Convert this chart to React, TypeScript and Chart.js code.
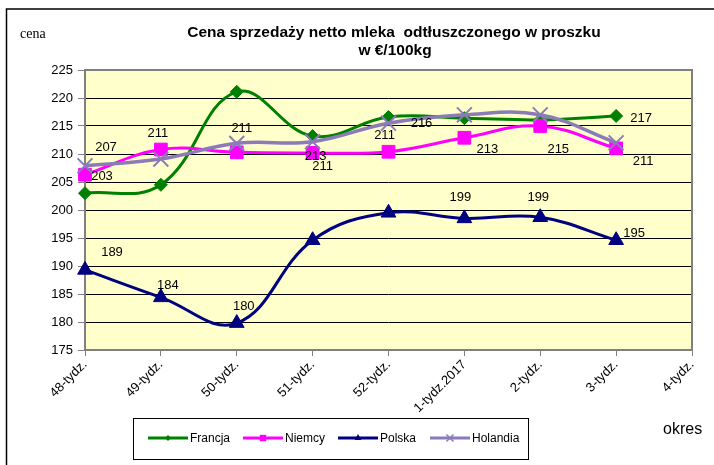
import React, { useEffect, useRef } from 'react';
import { Chart, registerables } from 'chart.js';

Chart.register(...registerables);

// ---------- DATA ----------
const categories = ['48-tydz.', '49-tydz.', '50-tydz.', '51-tydz.', '52-tydz.', '1-tydz.2017', '2-tydz.', '3-tydz.', '4-tydz.'];
const yTicks = [175, 180, 185, 190, 195, 200, 205, 210, 215, 220, 225];

const francja = [203.0, 204.5, 221.1, 213.2, 216.6, 216.4, 216.1, 216.8, null];
const niemcy = [206.3, 210.8, 210.3, 210.2, 210.4, 212.9, 215.0, 211.0, null];
const polska = [189.3, 184.4, 179.8, 194.6, 199.5, 198.5, 198.7, 194.6, null];
const holandia = [207.9, 209.1, 211.9, 212.2, 215.5, 217.0, 217.0, 212.0, null];

const francjaLabels = ['203', null, null, '213', '216', null, null, '217', null];
const niemcyLabels = [null, '211', null, '211', null, '213', '215', '211', null];
const polskaLabels = ['189', '184', '180', null, null, '199', '199', '195', null];
const holandiaLabels = ['207', null, '211', null, '211', null, null, null, null];

const seriesNames = ['Francja', 'Niemcy', 'Polska', 'Holandia'];
const titleLines = ['Cena sprzedaży netto mleka  odtłuszczonego w proszku', 'w €/100kg'];
const yAxisTitle = 'cena';
const xAxisTitle = 'okres';

// ---------- STYLE ----------
const W = 714;
const H = 465;
const SANS = "'Liberation Sans', Arial, sans-serif";
const SERIF = "'Liberation Serif', 'Times New Roman', serif";
const colors = ['#008000', '#FF00FF', '#000080', '#8B7BB8'];
const pointStyles = ['rectRot', 'rect', 'triangle', 'crossRot'];
const pointRadii = [6.5, 9, 8.5, 10.5];
const legendRadii = [3, 4.5, 4, 5];

// label offsets (dx, dy from the point), per series, per category
const labelOffsets: (number[] | null)[][] = [
  [[17, -17], null, null, [3, 20], [33, 6], null, null, [25, 3], null],
  [null, [-3, -16], null, [10, 14], null, [23, 12], [18, 23], [27, 13], null],
  [[27, -17], [7, -12], [7, -17], null, null, [-4, -21], [-2, -20], [18, -7], null],
  [[21, -18], null, [5, -15], null, [-4, 12], null, null, null, null],
];
const allLabels = [francjaLabels, niemcyLabels, polskaLabels, holandiaLabels];

function drawMarker(ctx: CanvasRenderingContext2D, style: string, r: number, x: number, y: number) {
  ctx.beginPath();
  if (style === 'rectRot') {
    ctx.moveTo(x, y - r);
    ctx.lineTo(x + r, y);
    ctx.lineTo(x, y + r);
    ctx.lineTo(x - r, y);
    ctx.closePath();
    ctx.fill();
  } else if (style === 'rect') {
    const s = r * Math.SQRT1_2;
    ctx.rect(x - s, y - s, 2 * s, 2 * s);
    ctx.fill();
  } else if (style === 'triangle') {
    ctx.moveTo(x, y - r);
    ctx.lineTo(x + r * 0.866, y + r * 0.5);
    ctx.lineTo(x - r * 0.866, y + r * 0.5);
    ctx.closePath();
    ctx.fill();
  } else {
    const s = r * Math.SQRT1_2;
    ctx.moveTo(x - s, y - s);
    ctx.lineTo(x + s, y + s);
    ctx.moveTo(x + s, y - s);
    ctx.lineTo(x - s, y + s);
    ctx.stroke();
  }
}

const decorPlugin = {
  id: 'decor',
  beforeDraw(chart: any) {
    const { ctx, chartArea } = chart;
    ctx.save();
    ctx.fillStyle = '#FFFFFF';
    ctx.fillRect(0, 0, W, H);
    ctx.strokeStyle = '#000000';
    ctx.lineWidth = 1.5;
    ctx.strokeRect(6.5, 9, W + 20, H + 20);
    ctx.fillStyle = '#FFFFCC';
    ctx.fillRect(chartArea.left, chartArea.top, chartArea.right - chartArea.left, chartArea.bottom - chartArea.top);
    ctx.restore();
  },
  beforeDatasetsDraw(chart: any) {
    const { ctx, chartArea } = chart;
    ctx.save();
    ctx.strokeStyle = '#808080';
    ctx.lineWidth = 2;
    ctx.strokeRect(chartArea.left, chartArea.top, chartArea.right - chartArea.left, chartArea.bottom - chartArea.top);
    ctx.restore();
  },
  afterDatasetsDraw(chart: any) {
    const { ctx } = chart;
    ctx.save();
    ctx.font = `13px ${SANS}`;
    ctx.fillStyle = '#000000';
    ctx.textAlign = 'center';
    ctx.textBaseline = 'middle';
    allLabels.forEach((labels, di) => {
      const meta = chart.getDatasetMeta(di);
      labels.forEach((txt, i) => {
        const off = labelOffsets[di][i];
        if (!txt || !off) return;
        const el = meta.data[i];
        if (!el) return;
        ctx.fillText(txt, el.x + off[0], el.y + off[1]);
      });
    });
    ctx.restore();
  },
  afterDraw(chart: any) {
    const { ctx } = chart;
    ctx.save();
    // title
    ctx.fillStyle = '#000000';
    ctx.textAlign = 'center';
    ctx.textBaseline = 'middle';
    ctx.font = `bold 15.5px ${SANS}`;
    ctx.fillText(titleLines[0], 394, 33);
    ctx.fillText(titleLines[1], 395, 51);
    // axis titles
    ctx.textAlign = 'left';
    ctx.font = `14px ${SERIF}`;
    ctx.fillText(yAxisTitle, 20, 34);
    ctx.font = `16px ${SANS}`;
    ctx.fillText(xAxisTitle, 663, 430);
    // legend
    ctx.strokeStyle = '#000000';
    ctx.lineWidth = 1;
    ctx.strokeRect(133.5, 418.5, 395, 41);
    const lineStarts = [148, 243, 338, 430];
    const ly = 438;
    ctx.font = `12px ${SANS}`;
    seriesNames.forEach((name, i) => {
      const x0 = lineStarts[i];
      ctx.strokeStyle = colors[i];
      ctx.lineWidth = 3;
      ctx.beginPath();
      ctx.moveTo(x0, ly);
      ctx.lineTo(x0 + 40, ly);
      ctx.stroke();
      ctx.fillStyle = colors[i];
      ctx.lineWidth = i === 3 ? 1.5 : 1;
      drawMarker(ctx, pointStyles[i], legendRadii[i], x0 + 20, ly);
      ctx.fillStyle = '#000000';
      ctx.fillText(name, x0 + 42, ly + 1);
    });
    ctx.restore();
  },
};

export default function App() {
  const ref = useRef<HTMLCanvasElement | null>(null);

  useEffect(() => {
    if (!ref.current) return;
    const series = [francja, niemcy, polska, holandia];
    const chart = new Chart(ref.current, {
      type: 'line',
      data: {
        labels: categories,
        datasets: series.map((d, i) => ({
          label: seriesNames[i],
          data: d,
          borderColor: colors[i],
          backgroundColor: colors[i],
          borderWidth: i === 3 ? 3.5 : 3,
          pointStyle: pointStyles[i] as any,
          pointRadius: pointRadii[i],
          pointHoverRadius: pointRadii[i],
          pointBorderColor: colors[i],
          pointBackgroundColor: colors[i],
          pointBorderWidth: i === 3 ? 2 : 1,
          tension: 0.4,
          fill: false,
          order: 3 - i,
        })),
      },
      options: {
        responsive: false,
        animation: false,
        layout: { padding: { left: 0, top: 70, right: 22, bottom: 0 } },
        plugins: {
          legend: { display: false },
          title: { display: false },
          tooltip: { enabled: false },
        },
        scales: {
          x: {
            type: 'category',
            offset: false,
            border: { display: false },
            grid: {
              display: true,
              drawOnChartArea: false,
              drawTicks: true,
              tickLength: 6,
              color: '#808080',
            },
            ticks: {
              autoSkip: false,
              maxRotation: 45,
              minRotation: 45,
              color: '#000000',
              font: { family: SANS, size: 13 },
              padding: 1,
            },
            afterFit(scale: any) {
              scale.height = H - 350;
            },
          },
          y: {
            min: yTicks[0],
            max: yTicks[yTicks.length - 1],
            border: { display: false },
            grid: {
              color: '#000000',
              lineWidth: 1,
              tickColor: '#808080',
              tickLength: 7,
            },
            afterBuildTicks(scale: any) {
              scale.ticks = yTicks.map((v) => ({ value: v }));
            },
            ticks: {
              color: '#000000',
              font: { family: SANS, size: 13 },
              padding: 5,
            },
            afterFit(scale: any) {
              scale.width = 85;
            },
          },
        },
      },
      plugins: [decorPlugin],
    });
    return () => chart.destroy();
  }, []);

  return (
    <div style={{ position: 'fixed', left: 0, top: 0, width: W, height: H, background: '#fff' }}>
      <canvas ref={ref} width={W} height={H} style={{ width: W, height: H, display: 'block' }} />
    </div>
  );
}
